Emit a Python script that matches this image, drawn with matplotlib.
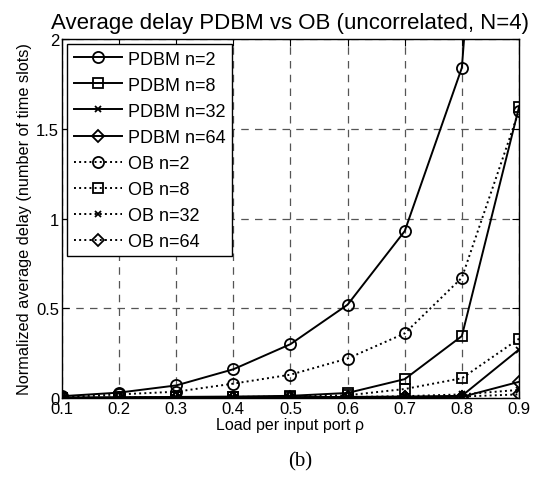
import matplotlib
matplotlib.use("Agg")
import matplotlib.pyplot as plt

load = [0.1, 0.2, 0.3, 0.4, 0.5, 0.6, 0.7, 0.8, 0.9]

pdbm_n2 = [0.010, 0.030, 0.070, 0.160, 0.300, 0.520, 0.930, 1.840, 6.000]
pdbm_n8 = [0.002, 0.004, 0.006, 0.008, 0.012, 0.028, 0.105, 0.345, 1.620]
pdbm_n32 = [0.001, 0.002, 0.003, 0.004, 0.005, 0.006, 0.008, 0.012, 0.270]
pdbm_n64 = [0.001, 0.001, 0.002, 0.002, 0.003, 0.003, 0.004, 0.006, 0.090]
ob_n2 = [0.005, 0.020, 0.035, 0.080, 0.130, 0.220, 0.360, 0.670, 1.600]
ob_n8 = [0.001, 0.002, 0.004, 0.006, 0.008, 0.015, 0.050, 0.110, 0.330]
ob_n32 = [0.001, 0.001, 0.002, 0.002, 0.003, 0.005, 0.010, 0.020, 0.045]
ob_n64 = [0.001, 0.001, 0.001, 0.002, 0.002, 0.003, 0.005, 0.008, 0.020]

labels = ["PDBM n=2", "PDBM n=8", "PDBM n=32", "PDBM n=64",
          "OB n=2", "OB n=8", "OB n=32", "OB n=64"]
xticks = [0.1, 0.2, 0.3, 0.4, 0.5, 0.6, 0.7, 0.8, 0.9]
yticks = [0, 0.5, 1, 1.5, 2]
yticklabels = ["0", "0.5", "1", "1.5", "2"]

plt.rcParams['font.family'] = ['Liberation Sans', 'DejaVu Sans']

fig = plt.figure(figsize=(5.33, 4.81), dpi=100)
ax = fig.add_axes([0.1163, 0.1705, 0.8574, 0.7463])

series = [pdbm_n2, pdbm_n8, pdbm_n32, pdbm_n64, ob_n2, ob_n8, ob_n32, ob_n64]
markers = ['o', 's', 'x', 'D', 'o', 's', 'x', 'D']
msizes = [8, 6.5, 5, 6, 8, 6.5, 5, 6]
styles = ['-'] * 4 + [':'] * 4

for s, m, ms, ls, lab in zip(series, markers, msizes, styles, labels):
    ax.plot(load, s, linestyle=ls, color='black', linewidth=1.4,
            marker=m, markersize=ms, markerfacecolor='none',
            markeredgecolor='black', markeredgewidth=1.3, label=lab)

ax.set_xlim(0.1, 0.9)
ax.set_ylim(0, 2)
ax.set_xticks(xticks)
ax.set_xticklabels([f"{t:.1f}" for t in xticks])
ax.set_yticks(yticks)
ax.set_yticklabels(yticklabels)
ax.tick_params(direction='in', top=True, right=True, labelsize=12, length=5,
               width=0.8, pad=2)
ax.grid(True, linestyle=(0, (6, 5)), color='#555555', linewidth=0.9)
for sp in ax.spines.values():
    sp.set_linewidth(1.0)

ax.set_title("Average delay PDBM vs OB (uncorrelated, N=4)", fontsize=16, pad=8)
ax.set_xlabel("Load per input port ρ", fontsize=11.5, labelpad=1)
ax.set_ylabel("Normalized average delay (number of time slots)", fontsize=11.7, labelpad=3)

leg = ax.legend(loc='upper left', fontsize=13, frameon=True, fancybox=False,
                edgecolor='black', framealpha=1, borderpad=0.35,
                labelspacing=0.5, handlelength=2.7, handletextpad=0.3,
                borderaxespad=0.3)
leg.get_frame().set_linewidth(1.0)

fig.text(0.563, 0.04, "(b)", fontsize=15, family=['Liberation Serif', 'DejaVu Serif'],
         ha='center', va='center')

fig.savefig("out.png", dpi=100)
